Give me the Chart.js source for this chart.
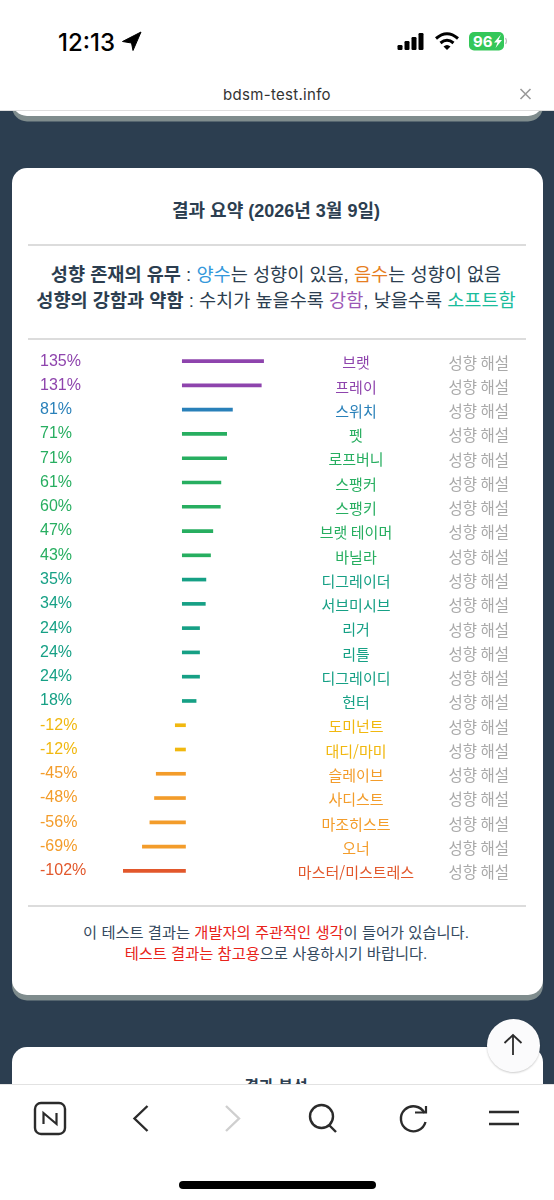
<!DOCTYPE html>
<html lang="ko">
<head>
<meta charset="utf-8">
<title>결과 요약</title>
<script src="https://cdn.jsdelivr.net/npm/chart.js@4"></script>
<style>
html, body { margin: 0; padding: 0; }
body { width: 554px; height: 1200px; position: relative; overflow: hidden; background: #2c3e50;
  font-family: "Liberation Sans", "Noto Sans CJK KR", sans-serif; color: #2c3e50; }
.abs { position: absolute; }
.line { position: absolute; left: 0; width: 552px; text-align: center; white-space: nowrap; }
.card { position: absolute; left: 11.5px; width: 531px; background: #fff; border-radius: 15px; box-shadow: 0 5.5px 0 #7f8c8d; }
.hr { position: absolute; left: 28px; width: 498px; height: 2px; background: #dcdcdc; }
.bar-top { position: absolute; left: 0; top: 0; width: 554px; height: 110px; background: #fff; border-bottom: 1px solid #dedede; }
.bar-bottom { position: absolute; left: 0; top: 1084px; width: 554px; height: 116px; background: #fff; border-top: 1px solid #e2e2e2; }
canvas { position: absolute; left: 0; top: 349px; }
b { font-weight: 700; }
</style>
</head>
<body>
<div class="card" style="top:60px;height:56px"></div>
<div class="card" style="top:168px;height:827px"></div>
<div class="card" style="top:1047px;height:120px"></div>
<div class="line" style="top:1076px;font-size:16px;font-weight:700;line-height:22px">결과 분석</div>

<div class="line" style="top:198px;font-size:18px;font-weight:700;line-height:26px">결과 요약 (2026년 3월 9일)</div>
<div class="hr" style="top:244px"></div>
<div class="line" style="top:262px;font-size:18.6px;line-height:26px"><b>성향 존재의 유무</b> : <span style="color:#3498db">양수</span>는 성향이 있음, <span style="color:#e67e22">음수</span>는 성향이 없음</div>
<div class="line" style="top:288px;font-size:18.6px;line-height:26px"><b>성향의 강함과 약함</b> : 수치가 높을수록 <span style="color:#9b59b6">강함</span>, 낮을수록 <span style="color:#1abc9c">소프트함</span></div>
<div class="hr" style="top:338px"></div>
<div class="hr" style="top:905px"></div>
<div class="line" style="top:922px;font-size:15.3px;line-height:22px;color:#34495e">이 테스트 결과는 <span style="color:#e8231a">개발자의 주관적인 생각</span>이 들어가 있습니다.</div>
<div class="line" style="top:943px;font-size:15.3px;line-height:22px;color:#34495e"><span style="color:#e8231a">테스트 결과는 참고용</span>으로 사용하시기 바랍니다.</div>

<canvas id="resultChart" width="554" height="534" style="width:554px;height:534px"></canvas>

<div class="bar-top"></div>
<div class="abs" style="left:58px;top:28px;font:500 24px/30px Inter,sans-serif;color:#000">12:13</div>
<svg class="abs" style="left:0;top:0" width="554" height="110">
  <path d="M141 32 L122.5 41.5 L131.5 43 L133 50.5 Z" fill="#000" stroke="#000" stroke-width="1" stroke-linejoin="round"/>
  <rect x="397.5" y="45" width="5" height="5" rx="1.2"/><rect x="404.5" y="41" width="5" height="9" rx="1.2"/>
  <rect x="411.5" y="37" width="5" height="13" rx="1.2"/><rect x="418.5" y="33" width="5" height="17" rx="1.2"/>
  <path d="M436 38.5 Q447 29 458 38.5" fill="none" stroke="#000" stroke-width="3"/>
  <path d="M440.5 43 Q447 37.5 453.5 43" fill="none" stroke="#000" stroke-width="3"/>
  <path d="M443.5 46.5 L447 50 L450.5 46.5 Q447 43.5 443.5 46.5 Z" fill="#000"/>
  <rect x="469" y="32" width="35" height="18.5" rx="5" fill="#34c759"/>
  <path d="M505.5 38 Q507.5 41 505.5 44" fill="none" stroke="#bbb" stroke-width="1.2"/>
  <text x="473" y="46.5" font-family="Inter" font-weight="700" font-size="15" fill="#fff">96</text>
  <path d="M501 34.5 L494 42.5 L497.5 42.5 L495.5 48 L502 40 L498.5 40 Z" fill="#fff"/>
  <text x="277" y="99.5" text-anchor="middle" font-family="Inter" font-size="15" fill="#333" letter-spacing=".3">bdsm-test.info</text>
  <path d="M520.5 89 L530.5 99 M530.5 89 L520.5 99" stroke="#9a9a9a" stroke-width="1.6"/>
</svg>

<div class="bar-bottom"></div>
<div class="abs" style="left:486.5px;top:1018.5px;width:53px;height:53px;border-radius:50%;background:#fbfbfc;box-shadow:0 1px 2px rgba(0,0,0,.2)"></div>
<svg class="abs" style="left:0;top:1000px" width="554" height="200" fill="none" stroke="#2b2b2b" stroke-width="2.4">
  <path d="M513 55 V35 M504.5 43 L513 35 L521.5 43" stroke-width="1.8"/>
  <rect x="35" y="103" width="30" height="31" rx="6"/>
  <path d="M43.5 124 V113 L56.5 124 V113" stroke-width="2.2"/>
  <path d="M147.5 106 L134.5 118.5 L147.5 131"/>
  <path d="M226 106 L239 118.5 L226 131" stroke="#cfcfcf"/>
  <circle cx="321.5" cy="116.5" r="11.5"/>
  <path d="M329 125 L336 132"/>
  <path d="M424.5 113 A12.5 12.5 0 1 0 425.5 122"/>
  <path d="M415 112.5 H426 V106" stroke-width="2.2"/>
  <path d="M489 112 H519 M489 124 H519"/>
  <rect x="179" y="181" width="197" height="8" rx="4" fill="#000" stroke="none"/>
</svg>

<script>
const categories = ['브랫', '프레이', '스위치', '펫', '로프버니', '스팽커', '스팽키', '브랫 테이머', '바닐라',
    '디그레이더', '서브미시브', '리거', '리틀', '디그레이디', '헌터', '도미넌트', '대디/마미', '슬레이브',
    '사디스트', '마조히스트', '오너', '마스터/미스트레스'];
const scores = [135, 131, 81, 71, 71, 61, 60, 47, 43, 35, 34, 24, 24, 24, 18, -12, -12, -45, -48, -56, -69, -102];
const linkLabel = '성향 해설';

// bar colour goes by score range, same as the site
function scoreColor(v) {
    if (v >= 100) return '#8e44ad';
    if (v >= 80) return '#2980b9';
    if (v >= 40) return '#27ae60';
    if (v >= 0) return '#16a085';
    if (v > -20) return '#f1b80f';
    if (v > -100) return '#f39c2a';
    return '#e2572b';
}

// percent on the left, name in the middle, link on the right
const rowText = {
    id: 'rowText',
    afterDatasetsDraw(chart) {
        const ctx = chart.ctx;
        const y = chart.scales.y;
        ctx.save();
        ctx.textBaseline = 'middle';
        categories.forEach((name, i) => {
            const py = y.getPixelForValue(i);
            ctx.font = '16px "Liberation Sans"';
            ctx.textAlign = 'left';
            ctx.fillStyle = scoreColor(scores[i]);
            ctx.fillText(scores[i] + '%', 40, py);
            ctx.font = '15px "Noto Sans CJK KR"';
            ctx.textAlign = 'center';
            ctx.fillText(name, 356, py + 1.5);
            ctx.font = '15.5px "Noto Sans CJK KR"';
            ctx.textAlign = 'right';
            ctx.fillStyle = '#a9a9a9';
            ctx.fillText(linkLabel, 509, py + 1.5);
        });
        ctx.restore();
    }
};

const ctx = document.getElementById('resultChart').getContext('2d');
new Chart(ctx, {
    type: 'bar',
    data: {
        labels: categories,
        datasets: [{
            data: scores.map(v => v > 0 ? v : null),
            xAxisID: 'xPos',
            base: -5.9,
            backgroundColor: scores.map(scoreColor)
        }, {
            data: scores.map(v => v < 0 ? v : null),
            xAxisID: 'xNeg',
            base: 5.7,
            backgroundColor: scores.map(scoreColor)
        }]
    },
    options: {
        indexAxis: 'y',
        responsive: false,
        animation: false,
        layout: { padding: 0 },
        grouped: false,
        barThickness: 3,
        plugins: { legend: { display: false }, tooltip: { enabled: false } },
        scales: {
            y: { display: false },
            // the two sides do not share a zero in the original, so each has its own axis
            xPos: { type: 'linear', display: false, min: -185.7 / 0.577, max: (554 - 185.7) / 0.577 },
            xNeg: { type: 'linear', display: false, min: -182.2 / 0.577, max: (554 - 182.2) / 0.577 }
        }
    },
    plugins: [rowText]
});
</script>
</body>
</html>
